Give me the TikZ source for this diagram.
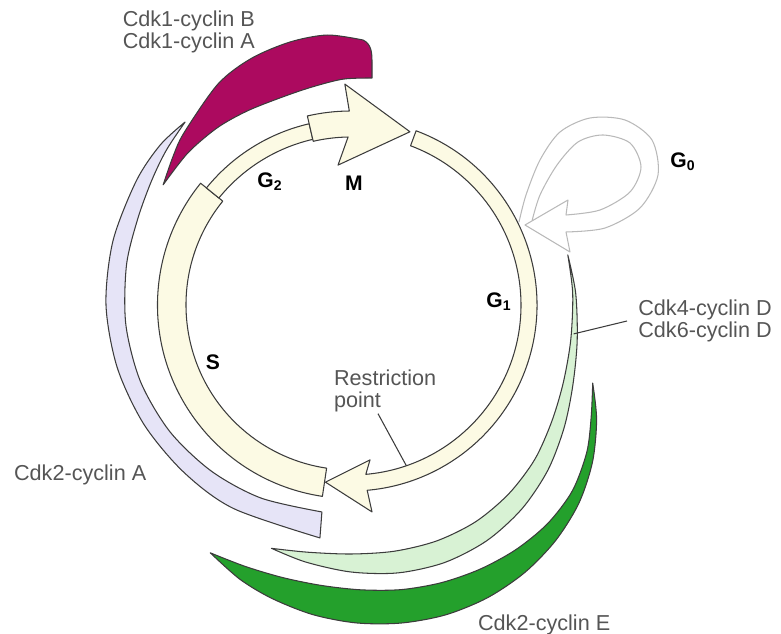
\documentclass[tikz,border=0pt]{standalone}
\usepackage{fontspec}
\setmainfont{Liberation Sans}
\usepackage{tikz}
\definecolor{cyclecream}{RGB}{252,250,228}
\definecolor{cdkmagenta}{RGB}{172,10,95}
\definecolor{cdklavender}{RGB}{230,228,247}
\definecolor{cdklightgreen}{RGB}{216,242,212}
\definecolor{cdkgreen}{RGB}{36,160,44}
\definecolor{edgegray}{RGB}{60,60,60}
\definecolor{labelgray}{RGB}{85,85,85}
\definecolor{loopgray}{RGB}{185,185,185}

\begin{document}
\begin{tikzpicture}[
  band/.style={draw=edgegray, line width=0.6pt, line join=round},
  phase/.style={band, fill=cyclecream},
  cdk/.style={font=\fontsize{12.3}{12.5}\selectfont, text=labelgray, inner sep=1pt, align=left},
  stage/.style={font=\fontsize{12}{13}\selectfont\bfseries, text=black, inner sep=0pt},
  lead/.style={draw=edgegray, line width=0.6pt},
  gzero/.style={draw=loopgray, line width=0.6pt, line join=round}
]
  \useasboundingbox (-7.02,-6.58) rectangle (8.6,6.1);

  % cyclin bands
  \draw[band, fill=cdkmagenta]
    plot[smooth] coordinates {(147.4:4.46) (140:4.64) (134:4.8) (121:5.16) (112:5.32) (103:5.4) (95:5.42) (0.24,5.3)}
    to[out=-25, in=90] (0.42,4.86) -- (0.42,4.54)
    -- plot[smooth] coordinates {(0.42,4.54) (92:4.52) (100:4.43) (108:4.38) (118:4.4) (127:4.44) (137:4.46) (147.4:4.46)}
    -- cycle;
  \draw[band, fill=cdklavender]
    plot[smooth] coordinates {(132.2:4.94) (140:4.98) (150:4.96) (165:4.93) (180:4.9) (195:4.84) (210:4.78) (225:4.73) (240:4.7) (262.4:4.7)}
    -- (262:4.18)
    -- plot[smooth] coordinates {(262:4.18) (245:4.26) (230:4.34) (215:4.42) (200:4.48) (185:4.52) (170:4.56) (158:4.6) (148:4.7) (140:4.82) (132.2:4.94)}
    -- cycle;
  \draw[band, fill=cdklightgreen]
    plot[smooth] coordinates {(13:4.45) (3:4.5) (-9:4.58) (-20:4.72) (-30:4.92) (-40:5.14) (-50:5.32) (-60:5.44) (-70:5.48) (-80:5.44) (-90:5.34) (-100:5.22) (-108.1:5.12)}
    -- plot[smooth] coordinates {(-108.1:5.12) (-100:5.02) (-90:4.98) (-80:5.0) (-70:5.02) (-60:5.0) (-50:4.92) (-40:4.8) (-30:4.64) (-20:4.52) (-9:4.45) (3:4.44) (13:4.45)}
    -- cycle;
  \draw[band, fill=cdkgreen]
    plot[smooth] coordinates {(-17.9:5.08) (-25:5.42) (-33:5.76) (-41:6.04) (-49:6.24) (-57:6.38) (-65:6.46) (-73:6.48) (-81:6.44) (-89:6.36) (-97:6.24) (-105:6.08) (-112:5.92) (-119.6:5.7)}
    -- plot[smooth] coordinates {(-119.6:5.7) (-112:5.64) (-104:5.62) (-96:5.64) (-88:5.7) (-80:5.78) (-72:5.84) (-64:5.88) (-56:5.9) (-48:5.88) (-40:5.78) (-32:5.56) (-25:5.3) (-17.9:5.08)}
    -- cycle;

  % cell cycle ring
  \draw[phase] (141:3.3) arc[start angle=141, end angle=261.5, radius=3.3]
    -- (261.5:3.87) arc[start angle=261.5, end angle=141, radius=3.87] -- cycle;
  \draw[phase] (141:3.4) arc[start angle=141, end angle=103, radius=3.4]
    -- (103:3.72) arc[start angle=103, end angle=141, radius=3.72] -- cycle;
  \draw[phase] (103:3.36) arc[start angle=103, end angle=91, radius=3.36]
    -- (95.3:2.81) -- (71.2:3.66) -- (91.6:4.42) -- (90.5:3.88)
    arc[start angle=90.5, end angle=103, radius=3.88] -- cycle;
  \draw[phase] (69.5:3.72) arc[start angle=69.5, end angle=-85, radius=3.72]
    -- (-84.2:4.16) -- (-98.2:3.58) -- (-83:3.12) -- (-85:3.4)
    arc[start angle=-85, end angle=69.5, radius=3.4] -- cycle;

  % G0 loop
  \draw[gzero]
    plot[smooth] coordinates {(3.36,1.66) (3.5,2.2) (3.78,2.9) (4.18,3.46) (4.78,3.74) (5.48,3.7) (6.02,3.3) (6.14,2.6) (5.78,1.94) (5.08,1.54) (4.3,1.46)}
    -- (4.38,1.06) -- (3.48,1.6) -- (4.34,2.1) -- (4.3,1.8)
    -- plot[smooth] coordinates {(4.3,1.8) (4.98,1.9) (5.58,2.26) (5.8,2.76) (5.58,3.24) (5.04,3.4) (4.54,3.26) (4.12,2.8) (3.78,2.2) (3.62,1.68)};

  % labels
  \node[stage] (lG2) at (-1.62,2.46) {G\textsubscript{2}};
  \node[stage] (lM)  at (0.06,2.44)  {M};
  \node[stage] (lG1) at (2.96,0.06)  {G\textsubscript{1}};
  \node[stage] (lS)  at (-2.76,-1.14) {S};
  \node[stage] (lG0) at (6.64,2.86)  {G\textsubscript{0}};

  \node[cdk, anchor=east] (cdkB) at (-1.88,5.47) {Cdk1-cyclin B\\Cdk1-cyclin A};
  \node[cdk, anchor=west, inner xsep=2.2mm] (cdkD) at (5.52,-0.32) {Cdk4-cyclin D\\Cdk6-cyclin D};
  \node[cdk, anchor=west] (cdkA) at (-6.78,-3.4) {Cdk2-cyclin A};
  \node[cdk, anchor=west] (cdkE) at (2.5,-6.4) {Cdk2-cyclin E};
  \node[cdk, anchor=west] (rpt) at (-0.38,-1.71) {Restriction\\point};

  \coordinate (rpend) at (-71:3.4);
  \coordinate (dend) at (-7.4:4.49);
  \draw[lead] ([xshift=9.2mm]rpt.south west) -- (rpend);
  \draw[lead] (cdkD.west) -- (dend);
\end{tikzpicture}
\end{document}
